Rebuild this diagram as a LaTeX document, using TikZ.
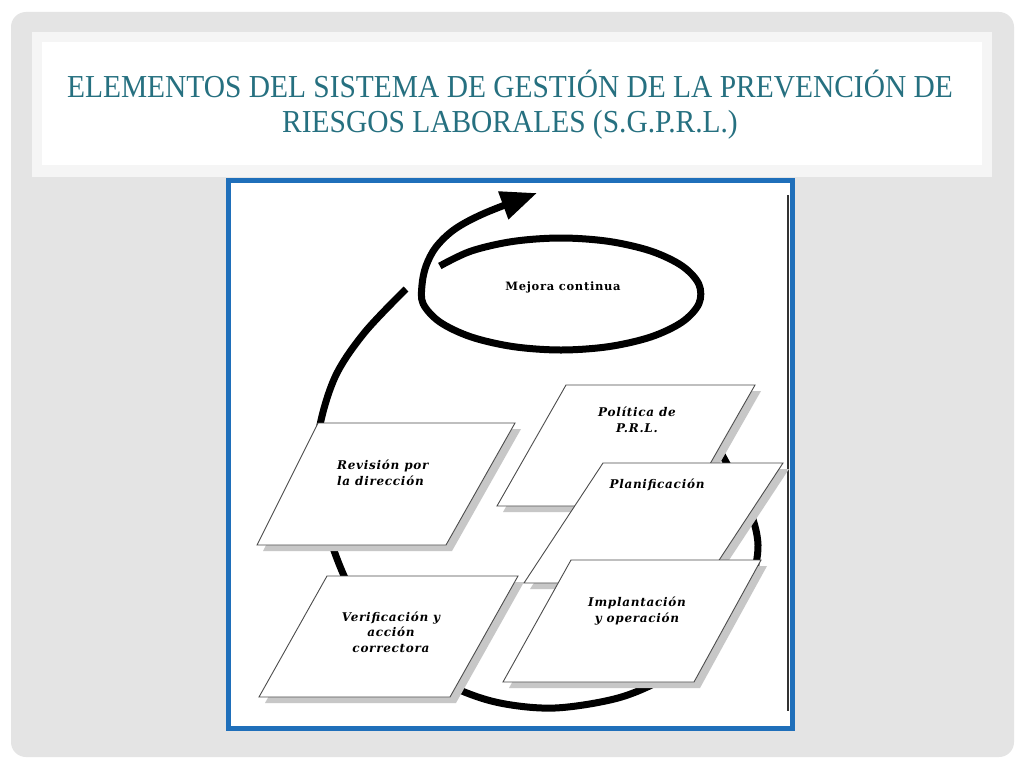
\documentclass[tikz,border=0pt]{standalone}
\usepackage{fontspec}
\usepackage{tikz}
\usetikzlibrary{arrows.meta}
\newfontfamily\titlefont[FakeStretch=0.92]{Liberation Serif}
\newfontfamily\cardfont[LetterSpace=6]{DejaVu Serif}
\definecolor{titleteal}{RGB}{38,112,128}
\definecolor{frameblue}{RGB}{31,111,186}
\definecolor{slidegray}{RGB}{228,228,228}
\tikzset{
  card/.style={draw=black!70, line width=0.9pt, fill=white},
  cardshadow/.style={fill=black!22},
  cardtext/.style={font=\cardfont\fontsize{12}{15.5}\selectfont\bfseries\itshape, align=center, inner sep=0pt},
  loopline/.style={line width=7pt, line cap=butt, line join=round},
  titletext/.style={font=\titlefont\fontsize{32}{35}\selectfont, text=titleteal, inner sep=0pt, anchor=base},
}

\begin{document}
\begin{tikzpicture}[x=1pt,y=-1pt]
	% slide
	\useasboundingbox (0,0) rectangle (1024,768);
	\fill[white] (0,0) rectangle (1024,768);
	\fill[slidegray, rounded corners=15pt] (11,12) rectangle (1014,757);
	\fill[black!4] (32,32) rectangle (992,177);
	\fill[white] (42,42) rectangle (982,165);
	\node[titletext] (title1) at (510,97) {ELEMENTOS DEL SISTEMA DE GESTIÓN DE LA PREVENCIÓN DE};
	\node[titletext] (title2) at (510,132) {RIESGOS LABORALES (S.G.P.R.L.)};

	% picture frame
	\draw[frameblue, line width=5pt, fill=white] (228.5,180.5) rectangle (792.5,728.5);
	\draw[black!80, line width=1.5pt] (788,195) -- (788,711);

	% the big loop, under the cards
	\draw[loopline] plot[smooth, tension=0.55] coordinates {(705,425) (726,462) (748,505) (758,545) (750,585) (730,620) (700,652) (665,678) (618,698) (555,708) (500,703) (455,688) (408,662) (372,626) (345,578) (326,525) (317,470) (320,425) (336,375) (365,332) (406,289)};
	\draw[loopline, -{Triangle[length=36pt,width=28pt]}] plot[smooth, tension=0.55] coordinates {(439.8,266) (471,251.1) (513.1,241.4) (561,238) (608.9,241.4) (651,251.1) (682.2,266) (698.9,284.3) (698.9,303.7) (682.2,322) (651,336.9) (608.9,346.6) (561,350) (513.1,346.6) (471,336.9) (439.8,322) (423.1,303.7) (422,285) (426,266) (436,247) (455,229) (485,213) (537,193)};
	\node[font=\cardfont\fontsize{11.5}{15}\selectfont\bfseries] (mejora) at (563,287) {Mejora continua};

	% Revision
	\fill[cardshadow, shift={(6,6)}] (318,423) -- (515,423) -- (446,545) -- (257,545) -- cycle;
	\draw[card] (318,423) -- (515,423) -- (446,545) -- (257,545) -- cycle;
	\node[cardtext, align=left, anchor=west] (revision) at (337,473) {Revisión por\\la dirección};

	% Verificacion
	\fill[cardshadow, shift={(6,6)}] (327,576) -- (518,576) -- (450,697) -- (259,697) -- cycle;
	\draw[card] (327,576) -- (518,576) -- (450,697) -- (259,697) -- cycle;
	\node[cardtext] (verificacion) at (391,632) {Verificación y\\acción\\correctora};

	% Politica
	\fill[cardshadow, shift={(6,6)}] (566,385) -- (755,385) -- (686,506) -- (497,506) -- cycle;
	\draw[card] (566,385) -- (755,385) -- (686,506) -- (497,506) -- cycle;
	\node[cardtext] (politica) at (637,420) {Política de\\P.R.L.};

	% Planificacion
	\fill[cardshadow, shift={(6,6)}] (603,463) -- (783,463) -- (704,583) -- (524,583) -- cycle;
	\draw[card] (603,463) -- (783,463) -- (704,583) -- (524,583) -- cycle;
	\node[cardtext] (planificacion) at (657,485) {Planificación};

	% Implantacion
	\fill[cardshadow, shift={(6,6)}] (571,560) -- (761,560) -- (694,682) -- (503,682) -- cycle;
	\draw[card] (571,560) -- (761,560) -- (694,682) -- (503,682) -- cycle;
	\node[cardtext] (implantacion) at (637,611) {Implantación\\y operación};
\end{tikzpicture}
\end{document}
